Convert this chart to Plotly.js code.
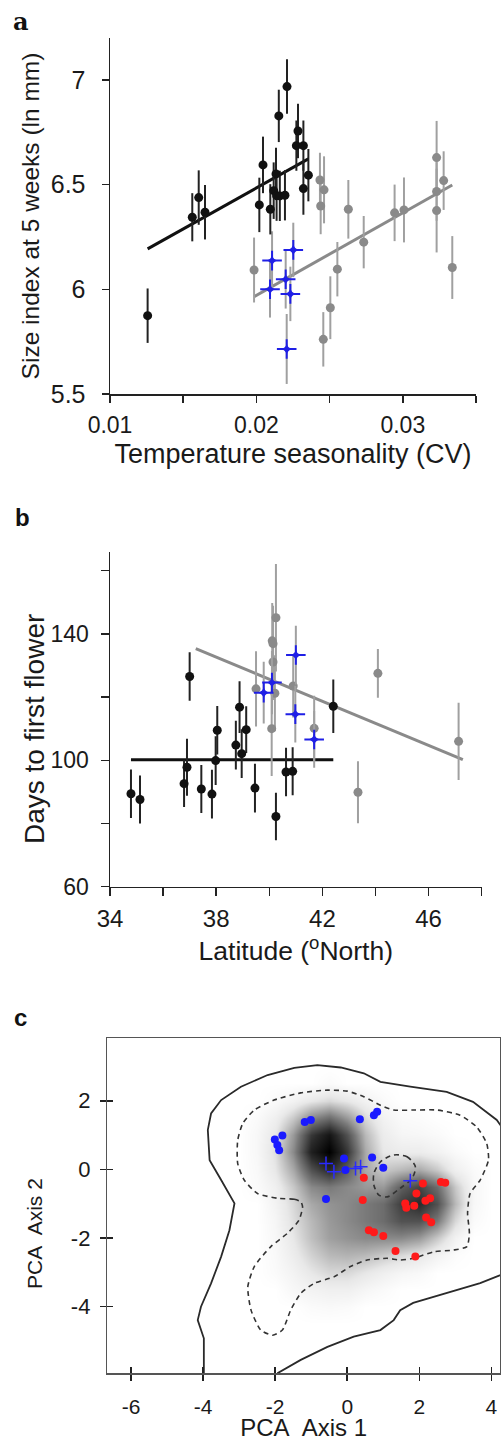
<!DOCTYPE html>
<html><head><meta charset="utf-8">
<script src="https://cdn.plot.ly/plotly-3.0.1.min.js"></script>
<style>html,body{margin:0;padding:0;background:#fff}</style>
</head><body><div id="chart" style="width:501px;height:1441px"></div>
<script>
// ---------- Panel a: size index vs temperature seasonality ----------
const aBlackX = [0.01257,0.01562,0.01606,0.01649,0.0202,0.02045,0.02095,0.02118,0.02134,0.02138,0.02153,0.0216,0.02195,0.02209,0.02284,0.02273,0.02321,0.02321,0.02355];
const aBlackY = [5.874,6.344,6.438,6.368,6.403,6.594,6.382,6.471,6.551,6.447,6.828,6.446,6.449,6.968,6.756,6.686,6.686,6.481,6.545];
const aBlackErr = [0.13,0.115,0.13,0.13,0.13,0.135,0.12,0.135,0.125,0.12,0.125,0.12,0.12,0.13,0.13,0.12,0.12,0.125,0.125];
const aGrayX = [0.01984,0.02434,0.02462,0.02439,0.02457,0.02505,0.02553,0.02628,0.02733,0.02944,0.03008,0.03231,0.03231,0.03231,0.03279,0.03338];
const aGrayY = [6.092,6.522,6.475,6.398,5.761,5.912,6.096,6.382,6.225,6.365,6.379,6.629,6.467,6.376,6.519,6.104];
const aGrayErr = [0.155,0.13,0.16,0.135,0.13,0.15,0.13,0.14,0.125,0.135,0.155,0.175,0.14,0.2,0.14,0.15];
const aBlueX = [0.02107,0.02252,0.022,0.02093,0.02232,0.02207];
const aBlueY = [6.137,6.188,6.048,6.0,5.978,5.715];
const aBlueErr = [0.14,0.13,0.14,0.135,0.13,0.167];
const aBlackFitX = [0.01257,0.02355];
const aBlackFitY = [6.193,6.623];
const aGrayFitX = [0.01984,0.03338];
const aGrayFitY = [5.965,6.498];
const aXTicks = [0.01,0.02,0.03];
const aXTickText = ['0.01','0.02','0.03'];
const aXMinor = [0.015,0.025,0.035];
const aYTicks = [5.5,6,6.5,7];
const aYTickText = ['5.5','6','6.5','7'];

// ---------- Panel b: days to first flower vs latitude ----------
const bBlackX = [34.79,35.13,37.0,36.79,36.9,37.44,37.84,37.98,38.04,38.74,38.88,38.96,39.13,39.46,40.25,40.63,40.88,42.41];
const bBlackY = [89.4,87.6,126.5,92.6,97.8,90.9,89.3,99.9,109.5,104.8,116.8,102.1,109.7,91.2,82.2,96.3,96.5,117.1];
const bBlackErr = [7.7,7.6,7.7,7.4,9,7.6,7.7,7.7,7.7,7.7,8.2,7.7,7.4,7.7,7.5,7.7,7.6,8.5];
const bGrayX = [39.5,40.09,40.11,40.14,40.14,40.25,40.21,40.9,41.69,43.34,44.09,47.13];
const bGrayY = [122.6,110.0,137.8,136.9,131.1,145.1,121.2,123.5,110.1,89.9,127.5,106.0];
const bGrayErr = [11.9,15,12,12,12,17,12,10,10.3,9.8,7.7,12.2];
const bBlueX = [39.79,40.1,41.0,40.98,41.69];
const bBlueY = [121.4,124.6,133.3,114.6,106.6];
const bBlueErr = [9.8,10,9.3,9,9];
const bBlackFitX = [34.79,42.41];
const bBlackFitY = [100.2,100.2];
const bGrayFitX = [37.23,47.29];
const bGrayFitY = [135.3,100.2];
const bXTicks = [34,38,42,46];
const bXMinor = [36,40,44,48];
const bYTicks = [60,100,140];
const bYMinor = [80,120,160];

// ---------- Panel c: PCA space ----------
const cBlueDotX = [-2.01,-1.80,-1.94,-1.89,-1.18,-1.01,0.35,0.74,0.83,-0.09,-0.05,0.69,1.0,-0.59];
const cBlueDotY = [0.87,0.99,0.71,0.56,1.38,1.44,1.46,1.58,1.68,0.32,-0.02,0.35,0.05,-0.86];
const cBluePlusX = [-0.59,-0.37,0.23,0.37,1.75];
const cBluePlusY = [0.17,-0.07,0.03,0.08,-0.33];
const cRedX = [0.46,0.43,0.6,0.74,1.0,1.34,1.89,1.61,1.64,1.86,1.92,2.10,2.17,2.30,2.19,2.33,2.60,2.72];
const cRedY = [-0.24,-0.89,-1.77,-1.83,-1.94,-2.38,-2.54,-0.99,-1.12,-1.06,-0.70,-0.41,-0.91,-0.84,-1.40,-1.54,-0.37,-0.39];
const cOuterX = [-3.98,-3.98,-4.15,-4.06,-3.78,-3.50,-3.27,-3.13,-3.50,-3.82,-3.87,-3.78,-3.50,-2.95,-2.21,-1.47,-0.83,-0.18,0.46,0.92,1.75,2.76,3.49,4.15,4.45,4.45,3.69,2.76,1.83,1.47,1.29,0.92,0.18,-0.55,-1.29,-1.94];
const cOuterY = [-5.94,-4.92,-4.39,-4.0,-3.32,-2.54,-1.77,-0.99,-0.31,0.27,1.15,1.63,2.02,2.41,2.75,2.96,3.04,2.97,2.80,2.55,2.41,2.26,1.97,1.44,1.0,-3.0,-3.31,-3.60,-3.89,-4.10,-4.39,-4.68,-4.87,-5.17,-5.55,-5.94];
const cDashX = [-1.29,-1.47,-1.94,-2.49,-2.86,-3.04,-3.04,-2.90,-2.58,-2.03,-1.29,-0.55,0.0,0.46,0.92,1.29,1.84,2.49,3.13,3.59,3.87,3.92,3.69,3.41,3.34,3.39,3.32,2.95,2.40,1.84,1.47,1.11,0.55,0.09,-0.37,-0.92,-1.29,-1.57,-1.80,-2.07,-2.40,-2.67,-2.76,-2.58,-2.12,-1.66,-1.34,-1.24,-1.29];
const cDashY = [-0.94,-0.87,-0.84,-0.70,-0.31,0.17,0.85,1.34,1.73,2.02,2.23,2.31,2.28,2.12,1.87,1.73,1.73,1.73,1.58,1.24,0.76,0.27,-0.31,-0.70,-1.28,-1.86,-2.25,-2.35,-2.40,-2.59,-2.64,-2.59,-2.64,-2.83,-3.13,-3.32,-3.61,-4.10,-4.68,-4.83,-4.68,-4.10,-3.42,-2.83,-2.25,-1.86,-1.48,-1.09,-0.94];
const cLoopX = [1.29,1.66,1.89,1.80,1.47,1.11,0.88,0.74,0.74,0.92,1.29];
const cLoopY = [0.42,0.37,0.08,-0.26,-0.55,-0.80,-0.75,-0.46,-0.12,0.22,0.42];
// density shading (0 = white, 100 = black)
const cDensX = [-3.5,-3,-2.5,-2,-1.5,-1,-0.5,0,0.5,1,1.5,2,2.5,3,3.5,4];
const cDensY = [-4.5,-4,-3.5,-3,-2.5,-2,-1.5,-1,-0.5,0,0.5,1,1.5,2,2.5,3];
const cDensZ = [
 [0,0,0,0,0,0,0,0,0,0,0,0,0,0,0,0],
 [0,0,0,0,0,3,4,3,0,0,0,0,0,0,0,0],
 [0,0,0,0,5,8,10,10,6,3,0,0,0,0,0,0],
 [0,0,0,3,8,15,20,20,15,10,6,4,0,0,0,0],
 [0,0,0,4,12,22,30,32,30,25,20,15,8,2,0,0],
 [0,0,0,5,15,28,38,42,45,45,45,40,25,8,0,0],
 [0,0,0,6,18,30,40,45,50,55,65,65,50,20,3,0],
 [0,0,0,8,20,35,42,45,50,55,72,80,65,30,5,0],
 [0,0,3,10,25,45,50,45,40,40,60,70,55,25,5,0],
 [0,0,4,15,35,65,80,60,35,25,30,35,25,10,3,0],
 [0,0,5,18,45,85,100,75,35,15,12,12,8,3,0,0],
 [0,0,5,15,40,75,90,65,30,12,6,5,3,0,0,0],
 [0,0,3,10,25,45,55,40,20,8,3,2,0,0,0,0],
 [0,0,0,3,8,15,20,15,8,3,0,0,0,0,0,0],
 [0,0,0,0,0,0,3,0,0,0,0,0,0,0,0,0],
 [0,0,0,0,0,0,0,0,0,0,0,0,0,0,0,0]
];
const cTicksX = [-6,-4,-2,0,2,4];
const cTicksY = [-4,-2,0,2];

// ---------- drawing ----------
const W = 501, H = 1441;
const px = v => v / W;
const py = v => 1 - v / H;
const FONT = 'Liberation Sans, Arial, sans-serif';
const TXT = '#1a1a1a';
const BLACK = '#111111', GRAY = '#8a8a8a', GRAYBAR = '#a0a0a0', BLUE = '#1f1fe6';

function errPts(x, y, err, xa, ya, color, barColor, symbol, size) {
  return {type:'scatter', mode:'markers', x:x, y:y, xaxis:xa, yaxis:ya,
    marker:{color:color, size:size, symbol:symbol, line:{width:0}},
    error_y:{type:'data', array:err, visible:true, color:barColor, thickness:2, width:0},
    hoverinfo:'x+y'};
}
// thin four-pointed star: a thin cross plus a small star at its centre
function starPts(x, y, err, xa, ya) {
  return [
    {type:'scatter', mode:'markers', x:x, y:y, xaxis:xa, yaxis:ya,
     marker:{color:BLUE, size:14, symbol:'cross-thin', line:{color:BLUE, width:2}},
     error_y:{type:'data', array:err, visible:true, color:GRAYBAR, thickness:2, width:0}},
    {type:'scatter', mode:'markers', x:x, y:y, xaxis:xa, yaxis:ya, hoverinfo:'skip',
     marker:{color:BLUE, size:8, symbol:'star-diamond', line:{width:0}}}
  ];
}
function fitLine(x, y, xa, ya, color) {
  return {type:'scatter', mode:'lines', x:x, y:y, xaxis:xa, yaxis:ya,
    line:{color:color, width:3}, hoverinfo:'skip'};
}

const traces = [
  fitLine(aBlackFitX, aBlackFitY, 'x', 'y', BLACK),
  fitLine(aGrayFitX, aGrayFitY, 'x', 'y', GRAY),
  errPts(aGrayX, aGrayY, aGrayErr, 'x', 'y', GRAY, GRAYBAR, 'circle', 9),
  ...starPts(aBlueX, aBlueY, aBlueErr, 'x', 'y'),
  errPts(aBlackX, aBlackY, aBlackErr, 'x', 'y', BLACK, '#222222', 'circle', 9),

  fitLine(bBlackFitX, bBlackFitY, 'x2', 'y2', BLACK),
  fitLine(bGrayFitX, bGrayFitY, 'x2', 'y2', GRAY),
  errPts(bGrayX, bGrayY, bGrayErr, 'x2', 'y2', GRAY, GRAYBAR, 'circle', 9),
  ...starPts(bBlueX, bBlueY, bBlueErr, 'x2', 'y2'),
  errPts(bBlackX, bBlackY, bBlackErr, 'x2', 'y2', BLACK, '#222222', 'circle', 9),

  {type:'heatmap', x:cDensX, y:cDensY, z:cDensZ, xaxis:'x3', yaxis:'y3',
   zmin:0, zmax:100, zsmooth:'best', showscale:false, hoverinfo:'skip',
   colorscale:[[0,'#ffffff'],[0.15,'#e8e8e8'],[0.5,'#7a7a7a'],[0.8,'#2a2a2a'],[1,'#000000']]},
  {type:'scatter', mode:'lines', x:cOuterX, y:cOuterY, xaxis:'x4', yaxis:'y4',
   line:{color:'#2a2a2a', width:1.8}, hoverinfo:'skip'},
  {type:'scatter', mode:'lines', x:cDashX, y:cDashY, xaxis:'x4', yaxis:'y4',
   line:{color:'#333333', width:1.6, dash:'5px,4px', shape:'spline', smoothing:0.6}, hoverinfo:'skip'},
  {type:'scatter', mode:'lines', x:cLoopX, y:cLoopY, xaxis:'x4', yaxis:'y4',
   line:{color:'#333333', width:1.6, dash:'5px,4px', shape:'spline', smoothing:0.8}, hoverinfo:'skip'},
  {type:'scatter', mode:'markers', x:cRedX, y:cRedY, xaxis:'x4', yaxis:'y4',
   marker:{color:'#ff1a1a', size:8}},
  {type:'scatter', mode:'markers', x:cBlueDotX, y:cBlueDotY, xaxis:'x4', yaxis:'y4',
   marker:{color:'#1a1aff', size:8}},
  {type:'scatter', mode:'markers', x:cBluePlusX, y:cBluePlusY, xaxis:'x4', yaxis:'y4',
   marker:{color:'#2a2aff', size:10, symbol:'cross-thin', line:{color:'#2a2aff', width:1.5}}}
];

const baseAx = {showgrid:false, zeroline:false, showline:true, linecolor:'#222', linewidth:1.5,
  ticks:'outside', ticklen:7, tickwidth:1.5, tickcolor:'#222', tickmode:'array', automargin:false};
const minorAx = (vals, len) => ({tickmode:'array', tickvals:vals, ticks:'outside', ticklen:len,
  tickwidth:1.5, tickcolor:'#222', showgrid:false});

const layout = {
  width:W, height:H, margin:{l:0,r:0,t:0,b:0}, paper_bgcolor:'#fff', plot_bgcolor:'rgba(0,0,0,0)',
  showlegend:false, font:{family:FONT, color:TXT},
  xaxis: Object.assign({}, baseAx, {domain:[px(110), px(476)], anchor:'y', range:[0.01,0.035],
    tickvals:aXTicks, ticktext:aXTickText, minor:minorAx(aXMinor, 7), tickfont:{size:23}, ticklabelstandoff:3,
    title:{text:'Temperature seasonality (CV)', font:{size:27}, standoff:7}}),
  yaxis: Object.assign({}, baseAx, {domain:[py(394), py(38)], anchor:'x', range:[5.5,7.2],
    tickvals:aYTicks, ticktext:aYTickText, tickfont:{size:25}, ticklabelstandoff:11,
    title:{text:'Size index at 5 weeks (ln mm)', font:{size:24.5}, standoff:4}}),
  xaxis2: Object.assign({}, baseAx, {domain:[px(110), px(481.7)], anchor:'y2', range:[34,48],
    tickvals:bXTicks, ticktext:bXTicks.map(String), minor:minorAx(bXMinor, 8), tickfont:{size:24},
    ticklabelstandoff:2, ticklen:8,
    title:{text:'Latitude (<sup>o</sup>North)', font:{size:26.5}, standoff:5}}),
  yaxis2: Object.assign({}, baseAx, {domain:[py(886.7), py(551.7)], anchor:'x2', range:[60,166],
    tickvals:bYTicks, ticktext:bYTicks.map(String), minor:minorAx(bYMinor, 8), tickfont:{size:23},
    ticklabelstandoff:7, ticklen:8}),
  xaxis3: Object.assign({}, baseAx, {domain:[px(107.3), px(500)], anchor:'y3', range:[-6.66,4.24],
    tickvals:cTicksX, ticktext:cTicksX.map(String), tickfont:{size:21}, ticklabelstandoff:8,
    ticklen:6, linecolor:'#555', tickcolor:'#222', mirror:true,
    title:{text:'PCA\u00a0 Axis 1', font:{size:24}, standoff:8}}),
  yaxis3: Object.assign({}, baseAx, {domain:[py(1373.3), py(1038.3)], anchor:'x3', range:[-5.94,3.82],
    tickvals:cTicksY, ticktext:cTicksY.map(String), tickfont:{size:22}, ticklabelstandoff:5,
    ticklen:6, linecolor:'#555', tickcolor:'#222', mirror:true}),
  xaxis4: {overlaying:'x3', anchor:'y4', range:[-6.66,4.24], tickmode:'array', tickvals:cTicksX,
    ticks:'inside', ticklen:6, tickwidth:1.5, tickcolor:'#222', showticklabels:false,
    showline:false, showgrid:false, zeroline:false},
  yaxis4: {overlaying:'y3', anchor:'x4', range:[-5.94,3.82], tickmode:'array', tickvals:cTicksY,
    ticks:'inside', ticklen:6, tickwidth:1.5, tickcolor:'#222', showticklabels:false,
    showline:false, showgrid:false, zeroline:false},
  annotations: [
    {text:'<b>a</b>', xref:'paper', yref:'paper', x:px(11), y:py(21), xanchor:'left', yanchor:'middle',
     showarrow:false, font:{size:24, family:'DejaVu Serif, serif', color:'#111'}},
    {text:'<b>b</b>', xref:'paper', yref:'paper', x:px(13), y:py(517), xanchor:'left', yanchor:'middle',
     showarrow:false, font:{size:24, color:'#111'}},
    {text:'<b>c</b>', xref:'paper', yref:'paper', x:px(12), y:py(1017), xanchor:'left', yanchor:'middle',
     showarrow:false, font:{size:24, color:'#111'}},
    {text:'Days to first flower', xref:'paper', yref:'paper', x:px(34), y:py(729), textangle:-90,
     xanchor:'center', yanchor:'middle', showarrow:false, font:{size:28}},
    {text:'PCA\u00a0 Axis 2', xref:'paper', yref:'paper', x:px(34), y:py(1234), textangle:-90,
     xanchor:'center', yanchor:'middle', showarrow:false, font:{size:21}}
  ]
};

Plotly.newPlot('chart', traces, layout, {staticPlot:true, displayModeBar:false});
</script>
</body></html>
